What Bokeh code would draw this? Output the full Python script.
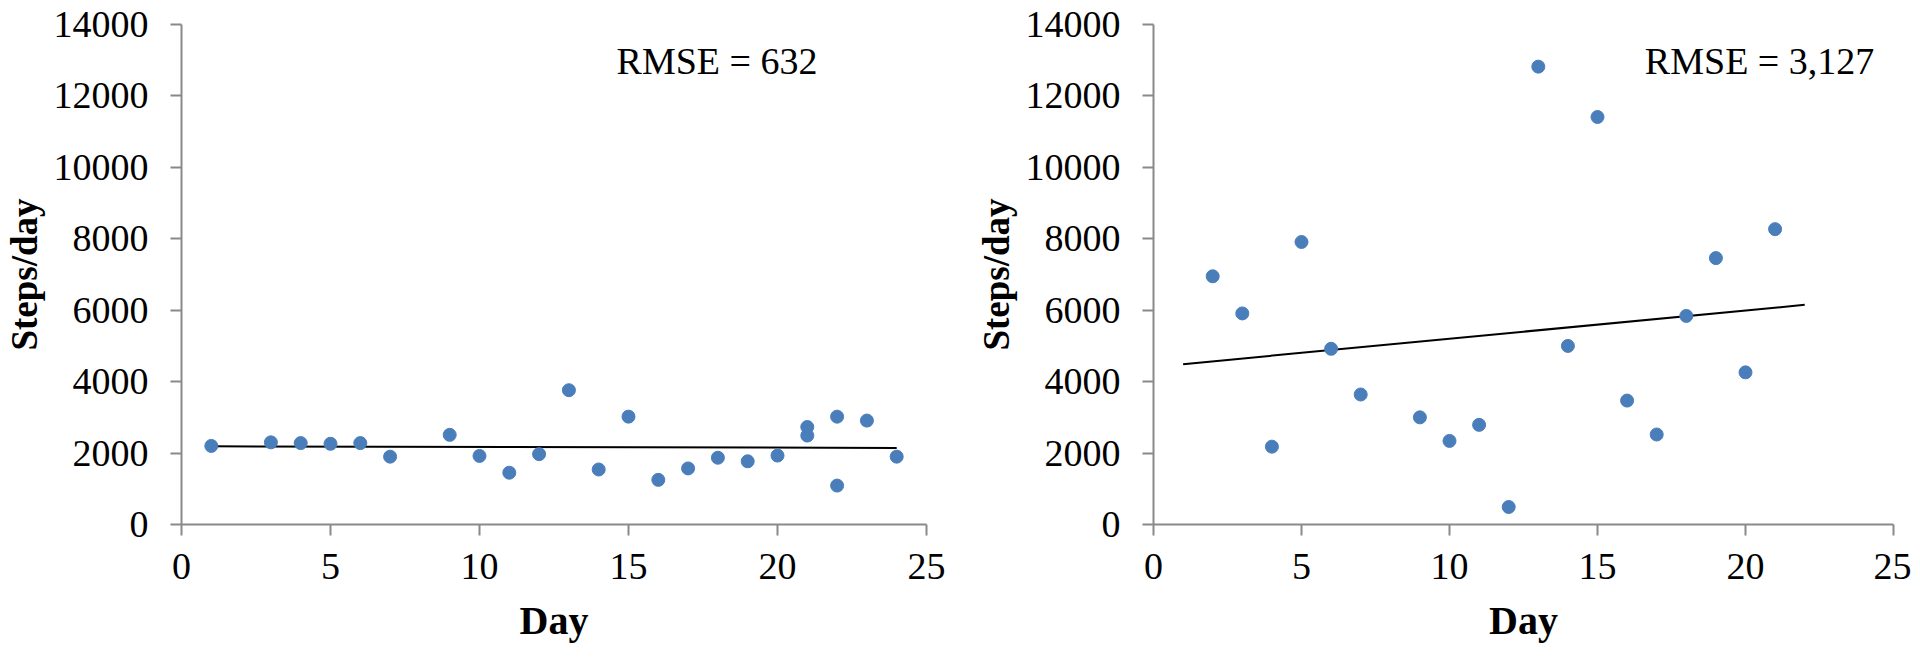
from bokeh.plotting import figure
from bokeh.layouts import row
from bokeh.models import Range1d, Label, FixedTicker
from bokeh.embed import file_html
from bokeh.resources import INLINE

# ---- data ----
left_day = [1, 3, 4, 5, 6, 7, 9, 10, 11, 12, 13, 14, 15, 16, 17, 18, 19, 20, 21, 21, 22, 22, 23, 24]
left_steps = [2200, 2300, 2280, 2260, 2280, 1900, 2510, 1920, 1450, 1970, 3760, 1540, 3020, 1250,
              1570, 1870, 1770, 1930, 2730, 2490, 3020, 1090, 2910, 1900]
left_trend_x = [1, 24]
left_trend_y = [2190, 2145]
left_rmse = "RMSE = 632"

right_day = [2, 3, 4, 5, 6, 7, 9, 10, 11, 12, 13, 14, 15, 16, 17, 18, 19, 20, 21]
right_steps = [6950, 5910, 2180, 7910, 4920, 3640, 3000, 2340, 2790, 490, 12820, 5000, 11410,
               3470, 2520, 5840, 7460, 4260, 8270]
right_trend_x = [1, 22]
right_trend_y = [4490, 6150]
right_rmse = "RMSE = 3,127"

x_ticks = [0, 5, 10, 15, 20, 25]
y_ticks = [0, 2000, 4000, 6000, 8000, 10000, 12000, 14000]

FONT = "Liberation Serif"
AXIS_COLOR = "#898989"
DOT_COLOR = "#4A7EBB"


def make_panel(xs, ys, tx, ty, rmse, border_left, frame_w, border_right, rmse_x):
    p = figure(frame_width=frame_w, frame_height=500,
               x_range=Range1d(0, 25), y_range=Range1d(0, 14000),
               output_backend="svg", toolbar_location=None,
               min_border_left=border_left, min_border_right=border_right,
               min_border_top=24, min_border_bottom=127)
    p.outline_line_color = None
    p.grid.visible = False
    p.background_fill_color = "white"
    p.border_fill_color = "white"

    p.line(tx, ty, line_color="black", line_width=2)
    p.scatter(xs, ys, size=13, fill_color=DOT_COLOR, line_color=DOT_COLOR)

    for ax in (p.xaxis[0], p.yaxis[0]):
        ax.axis_line_color = AXIS_COLOR
        ax.axis_line_width = 2
        ax.major_tick_line_color = AXIS_COLOR
        ax.major_tick_line_width = 2
        ax.major_tick_out = 11
        ax.major_tick_in = 0
        ax.minor_tick_line_color = None
        ax.major_label_text_font = FONT
        ax.major_label_text_font_size = "38px"
        ax.major_label_text_color = "black"
        ax.axis_label_text_font = FONT
        ax.axis_label_text_font_style = "bold"
        ax.axis_label_text_color = "black"

    p.xaxis.ticker = FixedTicker(ticks=x_ticks)
    p.yaxis.ticker = FixedTicker(ticks=y_ticks)
    p.xaxis.axis_label = "Day"
    p.yaxis.axis_label = "Steps/day"
    p.xaxis.axis_label_text_font_size = "40px"
    p.yaxis.axis_label_text_font_size = "37px"
    p.xaxis.major_label_standoff = 18
    p.yaxis.major_label_standoff = 22
    p.xaxis.axis_label_standoff = 16
    p.yaxis.axis_label_standoff = 6

    p.add_layout(Label(x=rmse_x, y=12990, text=rmse, text_font=FONT,
                       text_font_size="38px", text_color="black",
                       text_baseline="alphabetic", text_align="left"))
    return p


p1 = make_panel(left_day, left_steps, left_trend_x, left_trend_y, left_rmse, 174, 745, 33, 14.6)
p2 = make_panel(right_day, right_steps, right_trend_x, right_trend_y, right_rmse, 194, 740, 18, 16.6)

layout = row(p1, p2)
open("out.html", "w").write(file_html(layout, INLINE))
